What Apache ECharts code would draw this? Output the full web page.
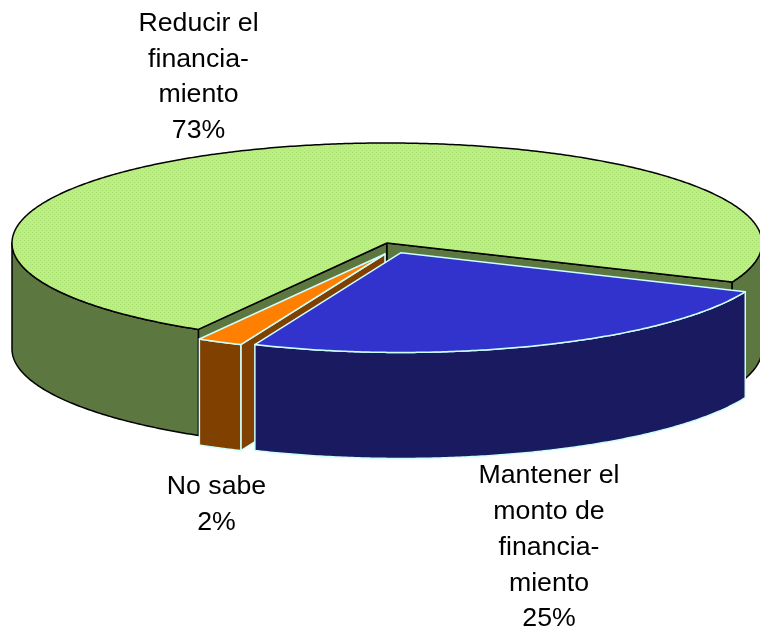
<!DOCTYPE html>
<html><head><meta charset="utf-8">
<style>html,body{margin:0;padding:0;background:#fff}#c{width:760px;height:629px}</style>
<script src="https://cdn.jsdelivr.net/npm/echarts@6/dist/echarts.min.js"></script>
</head><body><div id="c"></div>
<script>
// Data (drawn in back-to-front order)
const categories = ['Reducir el\nfinancia-\nmiento', 'No sabe', 'Mantener el\nmonto de\nfinancia-\nmiento'];
const shares = [73, 2, 25];
const percentLabels = ['73%', '2%', '25%'];

// Styles and layout
const sideColors = ['#5c7840', '#804000', '#1a1a60'];
const strokeColors = ['#000000', '#ccffff', '#ccffff'];
const apexX = [387, 385, 401];
const apexY = [243, 254, 252.7];
const radii = [375, 369, 374];
const labelX = [198.5, 216.5, 549];
const labelY = [5.5, 469, 458];
const SQUASH = 0.2667, DEPTH = 106, FIRST_ANGLE = 383;

// Dotted fill of the large slice
function dots() {
  const c = document.createElement('canvas');
  c.width = c.height = 4;
  const g = c.getContext('2d');
  g.fillStyle = '#bbee84';
  g.fillRect(0, 0, 4, 4);
  g.fillStyle = '#a9e070';
  g.fillRect(0, 0, 1, 1);
  g.fillRect(2, 2, 1, 1);
  return {image: c, repeat: 'repeat'};
}
const topColors = [dots(), '#ff8000', '#3232cc'];

const chart = echarts.init(document.getElementById('c'), null, {renderer: 'canvas'});
const total = shares.reduce((a, b) => a + b, 0);
function sliceRange(i) {
  let end = FIRST_ANGLE;
  for (let k = 0; k < i; k++) end -= shares[k] / total * 360;
  return [end - shares[i] / total * 360, end];
}
const rad = d => d * Math.PI / 180;
function arcPts(i, a, b, dy) {
  const pts = [];
  const n = Math.max(2, Math.ceil(Math.abs(b - a) * 2));
  for (let k = 0; k <= n; k++) {
    const t = rad(a + (b - a) * k / n);
    pts.push([apexX[i] + radii[i] * Math.cos(t), apexY[i] + dy + radii[i] * SQUASH * Math.sin(t)]);
  }
  return pts;
}
function poly(points, fill, stroke) {
  return {type: 'polygon', shape: {points}, style: {fill, stroke, lineWidth: 1.5, lineJoin: 'round'}};
}
function renderItem(params, api) {
  const i = params.dataIndex;
  const [a, b] = sliceRange(i);
  const side = sideColors[i], st = strokeColors[i], kids = [];
  const apex = [apexX[i], apexY[i]], apexLow = [apexX[i], apexY[i] + DEPTH];
  const rim = ang => arcPts(i, ang, ang, 0)[0];
  const drop = p => [p[0], p[1] + DEPTH];
  // cut walls, only those facing the viewer
  if (Math.sin(rad(a - 90)) > 0) kids.push(poly([apex, rim(a), drop(rim(a)), apexLow], side, st));
  if (Math.sin(rad(b + 90)) > 0) kids.push(poly([apex, rim(b), drop(rim(b)), apexLow], side, st));
  // outer wall: only the front half is visible
  for (const off of [0, 360]) {
    const lo = Math.max(a, off), hi = Math.min(b, off + 180);
    if (hi > lo) {
      const top = arcPts(i, lo, hi, 0), low = arcPts(i, lo, hi, DEPTH).reverse();
      kids.push(poly(top.concat(low), side, st));
    }
  }
  // top face
  kids.push(poly([apex].concat(arcPts(i, a, b, 0)), topColors[i], st));
  // label
  kids.push({
    type: 'text', z2: 100,
    style: {
      x: labelX[i], y: labelY[i], text: api.value(1) + '\n' + percentLabels[i],
      align: 'center', verticalAlign: 'top',
      font: '26.7px "Liberation Sans", Arial, sans-serif', lineHeight: 35.8, fill: '#000'
    }
  });
  return {type: 'group', children: kids};
}
chart.setOption({
  animation: false,
  backgroundColor: '#fff',
  series: [{
    type: 'custom', coordinateSystem: 'none', renderItem,
    data: categories.map((c, i) => [shares[i], c])
  }]
});
</script></body></html>
